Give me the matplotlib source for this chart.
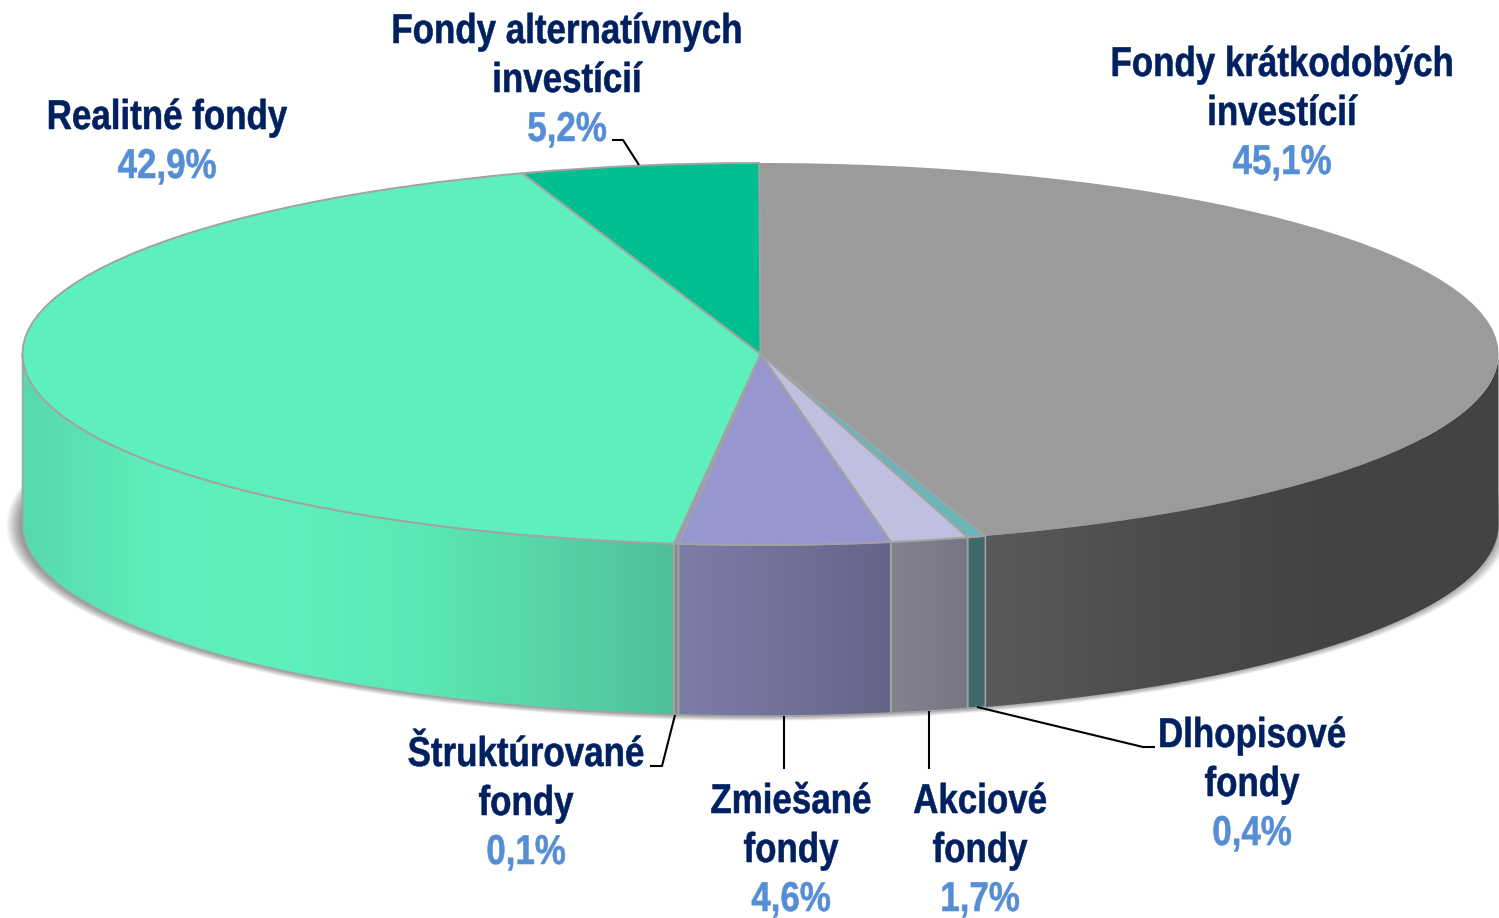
import numpy as np
import matplotlib
matplotlib.use("Agg")
import matplotlib.pyplot as plt
import matplotlib.patheffects as pe
from matplotlib.colors import LinearSegmentedColormap
from matplotlib.patches import Ellipse, Polygon
from matplotlib.transforms import Affine2D

# data
names = ["Fondy krátkodobých\ninvestícií", "Dlhopisové\nfondy", "Akciové\nfondy", "Zmiešané\nfondy",
         "Štruktúrované\nfondy", "Realitné fondy", "Fondy alternatívnych\ninvestícií"]
shares = [45.1, 0.4, 1.7, 4.6, 0.1, 42.9, 5.2]
share_labels = ["45,1%", "0,4%", "1,7%", "4,6%", "0,1%", "42,9%", "5,2%"]

# colours, wall stops run left to right
top_colors = ["#9b9b9b", "#6bb5b9", "#bfbfdf", "#9796cf", "#9796cf", "#5ef0bc", "#00bf8f"]
wall_stops = [
    ["#5a5a5a", "#4c4c4c", "#434343", "#434343"],
    ["#41696b", "#41696b"],
    ["#83828f", "#777685"],
    ["#7e7da9", "#656488"],
    ["#8a8a8a", "#8a8a8a"],
    ["#58d8ab", "#5eeebb", "#5ef0bc", "#5ce8b6", "#56d6a8", "#4fbf98"],
    ["#5ef0bc", "#5ef0bc"],
]

W, H = 1499, 918
cx, cy = 760.5, H - 354
rx, ry = 738, 191
depth = 171
start = 90.1
edge = "#a3a3a3"


# the reference lettering is a condensed Arial, so squeeze the glyphs around the label centre
class Squeeze(pe.AbstractPathEffect):
    def __init__(self, x_px, factor):
        super().__init__()
        self.x_px = x_px
        self.factor = factor

    def draw_path(self, renderer, gc, tpath, affine, rgbFace=None):
        sq = Affine2D().translate(-self.x_px, 0).scale(self.factor, 1).translate(self.x_px, 0)
        gc0 = renderer.new_gc()
        gc0.copy_properties(gc)
        gc0.set_linewidth(0.4)
        gc0.set_foreground(rgbFace)
        renderer.draw_path(gc0, tpath, affine + sq, rgbFace)
        gc0.restore()


fig = plt.figure(figsize=(W / 100, H / 100), dpi=100)
ax = fig.add_axes([0, 0, 1, 1])

squash = Affine2D().translate(-cx, -cy).scale(1, ry / rx).translate(cx, cy) + ax.transData
wedges, _ = ax.pie(shares, colors=top_colors, startangle=start, counterclock=False,
                   radius=rx, center=(cx, cy))
for w in wedges:
    w.set_transform(squash)
    w.set_edgecolor(edge)
    w.set_linewidth(1.4)
    w.set_zorder(5)
wedges[0].set_edgecolor("none")
ax.set_aspect("auto")
ax.set_autoscale_on(False)
ax.set_xlim(0, W)
ax.set_ylim(0, H)
ax.axis("off")

# soft shadow below the pie
for k in range(20):
    ax.add_patch(Ellipse((cx - 2, cy - depth), 2 * (rx + 14 - k * 1.0), 2 * (ry + 5 - k * 0.4),
                         fc="#000000", ec="none", alpha=0.03, zorder=1))

# walls on the front half
edges = 360 * np.cumsum([0] + shares) / np.sum(shares) + (90 - start)
for i in range(len(shares)):
    a0, a1 = max(edges[i], 90), min(edges[i + 1], 270)
    if a1 <= a0:
        continue
    t = np.radians(np.linspace(a0, a1, 200))
    x = cx + rx * np.sin(t)
    y = cy + ry * np.cos(t)
    pts = np.r_[np.c_[x, y], np.c_[x[::-1], y[::-1] - depth]]
    wall = Polygon(pts, closed=True, fc="none", ec=edge if i != 0 else "none", lw=1.1, zorder=4)
    ax.add_patch(wall)
    cmap = LinearSegmentedColormap.from_list("w%d" % i, wall_stops[i])
    im = ax.imshow(np.linspace(0, 1, 256)[None, :], cmap=cmap, aspect="auto", zorder=3,
                   extent=(x.min(), x.max(), y.min() - depth, y.max()), interpolation="bilinear")
    im.set_clip_path(wall)
ax.set_xlim(0, W)
ax.set_ylim(0, H)

# labels
font = ["Liberation Sans"]
navy, blue = "#002060", "#558ed5"
label_x = [1282, 1252, 980, 791, 526, 167, 567]
label_y = [65, 736, 802, 802, 755, 118, 32]
step = 49
for name, pct, lx, ly in zip(names, share_labels, label_x, label_y):
    lines = name.split("\n")
    sq = [Squeeze(lx, 0.838)]
    for j, line in enumerate(lines):
        ax.text(lx, H - (ly + j * step), line, color=navy, fontsize=30, fontweight="bold",
                family=font, ha="center", va="center", zorder=8, path_effects=sq)
    ax.text(lx, H - (ly + len(lines) * step), pct, color=blue, fontsize=30, fontweight="bold",
            family=font, ha="center", va="center", zorder=8, path_effects=sq)

# leader lines
leaders = [
    ([612, 623, 639], [140, 140, 165]),
    ([650, 662, 675], [766, 766, 715]),
    ([784, 784], [716, 769]),
    ([929, 929], [711, 769]),
    ([977, 1143, 1155], [707, 747, 747]),
]
for lxs, lys in leaders:
    ax.plot(lxs, [H - v for v in lys], color="black", lw=1.5, zorder=7, solid_capstyle="butt")

fig.savefig("out.png", dpi=100)
